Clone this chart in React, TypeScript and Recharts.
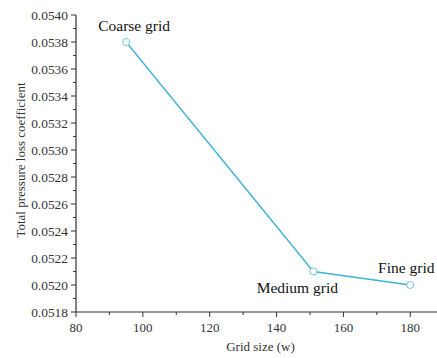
import React from "react";
import { LineChart, Line, XAxis, YAxis, LabelList } from "recharts";

const gridSizes = [95, 151, 180];
const lossCoefficients = [0.0538, 0.0521, 0.052];
const gridNames = ["Coarse grid", "Medium grid", "Fine grid"];
const xTicks = [80, 90, 100, 110, 120, 130, 140, 150, 160, 170, 180];
const xMajor = [80, 100, 120, 140, 160, 180];
const yTicks = [
  0.0518, 0.0519, 0.052, 0.0521, 0.0522, 0.0523, 0.0524, 0.0525, 0.0526, 0.0527, 0.0528,
  0.0529, 0.053, 0.0531, 0.0532, 0.0533, 0.0534, 0.0535, 0.0536, 0.0537, 0.0538, 0.0539, 0.054,
];
const yMajor = [0.0518, 0.052, 0.0522, 0.0524, 0.0526, 0.0528, 0.053, 0.0532, 0.0534, 0.0536, 0.0538, 0.054];
const xTitle = "Grid size (w)";
const yTitle = "Total pressure loss coefficient";

const data = gridSizes.map((g, i) => ({ x: g, y: lossCoefficients[i], name: gridNames[i] }));

const FONT = "'Liberation Serif', 'Times New Roman', serif";
const AX = "#333";

const isMajorY = (v: number) => yMajor.some((m) => Math.abs(m - v) < 1e-9);

const YTick = (props: any) => {
  const { x, y, payload } = props;
  const major = isMajorY(payload.value);
  return (
    <g>
      <line x1={x} x2={x - (major ? 5 : 3)} y1={y} y2={y} stroke={AX} strokeWidth={1} />
      {major && (
        <text x={x - 8} y={y} dy={4.5} textAnchor="end" fontFamily={FONT} fontSize={13.4} fill={AX}>
          {payload.value.toFixed(4)}
        </text>
      )}
    </g>
  );
};

const XTick = (props: any) => {
  const { x, y, payload } = props;
  const major = xMajor.includes(payload.value);
  return (
    <g>
      <line x1={x} x2={x} y1={y} y2={y + (major ? 5 : 3)} stroke={AX} strokeWidth={1} />
      {major && (
        <text x={x} y={y + 20} textAnchor="middle" fontFamily={FONT} fontSize={13} fill={AX}>
          {payload.value}
        </text>
      )}
    </g>
  );
};

const labelOffsets = [
  { dx: 8, dy: -11 },
  { dx: -16, dy: 21 },
  { dx: -4, dy: -12 },
];

const PointLabel = (props: any) => {
  const { x, y, index } = props;
  const o = labelOffsets[index];
  return (
    <text x={x + o.dx} y={y + o.dy} textAnchor="middle" fontFamily={FONT} fontSize={15.5} fill="#111">
      {gridNames[index]}
    </text>
  );
};

const XTitle = (props: any) => {
  const vb = props.viewBox || {};
  return (
    <text x={vb.x + vb.width / 2 + 4} y={351} textAnchor="middle" fontFamily={FONT} fontSize={13} fill={AX}>
      {xTitle}
    </text>
  );
};

const YTitle = () => {
  const cy = 160;
  const cx = 25;
  return (
    <text
      x={cx}
      y={cy}
      transform={`rotate(-90, ${cx}, ${cy})`}
      textAnchor="middle"
      fontFamily={FONT}
      fontSize={13}
      fill={AX}
    >
      {yTitle}
    </text>
  );
};

export default function App() {
  return (
    <div style={{ position: "absolute", left: 0, top: 0, width: 437, height: 358, background: "#fff" }}>
      <LineChart width={437} height={358} data={data} margin={{ top: 15, right: 0, bottom: 0, left: 0 }}>
        <XAxis
          dataKey="x"
          type="number"
          domain={[80, 188]}
          ticks={xTicks}
          interval={0}
          height={46}
          tick={<XTick />}
          tickLine={false}
          tickSize={0}
          tickMargin={0}
          axisLine={{ stroke: AX, strokeWidth: 1.2 }}
          label={<XTitle />}
        />
        <YAxis
          dataKey="y"
          type="number"
          domain={[0.0518, 0.054]}
          ticks={yTicks}
          interval={0}
          width={76}
          tick={<YTick />}
          tickLine={false}
          tickSize={0}
          tickMargin={0}
          axisLine={{ stroke: AX, strokeWidth: 1.2 }}
          label={<YTitle />}
        />
        <Line
          dataKey="y"
          stroke="#3fb4d8"
          strokeWidth={1.4}
          dot={{ r: 3.5, fill: "#fff", stroke: "#6fc3dc", strokeWidth: 1 }}
          isAnimationActive={false}
        >
          <LabelList dataKey="name" content={<PointLabel />} />
        </Line>
      </LineChart>
    </div>
  );
}
